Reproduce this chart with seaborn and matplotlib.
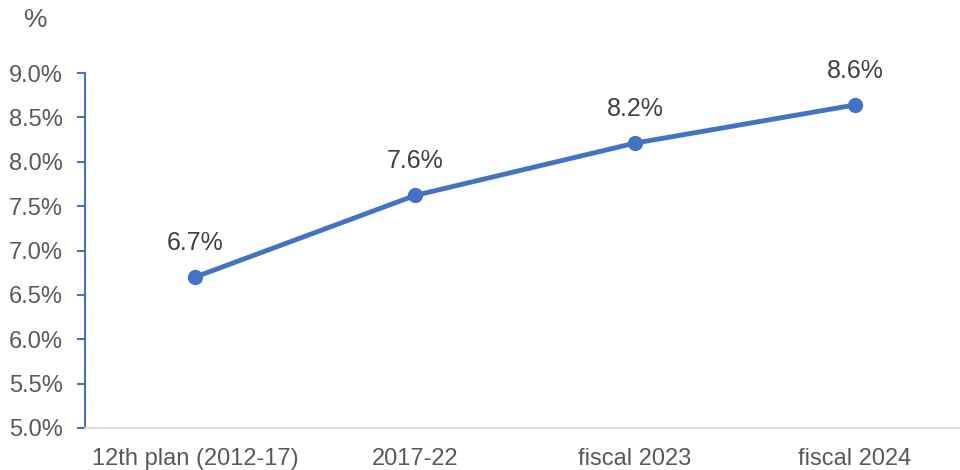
import matplotlib
matplotlib.use("Agg")
import matplotlib.pyplot as plt
import seaborn as sns
import pandas as pd

periods = ["12th plan (2012-17)", "2017-22", "fiscal 2023", "fiscal 2024"]
growth_pct = [6.70, 7.62, 8.21, 8.64]
y_ticks = [5.0, 5.5, 6.0, 6.5, 7.0, 7.5, 8.0, 8.5, 9.0]

sns.set_style("white")
plt.rcParams["font.family"] = ["Liberation Sans", "DejaVu Sans"]

df = pd.DataFrame({"period": periods, "growth": growth_pct, "pos": range(len(periods))})

line_color = "#4472C4"
text_color = "#595959"

fig = plt.figure(figsize=(9.6, 4.7), dpi=100)
ax = fig.add_axes([85 / 960, 1 - 428 / 470, 1 - 85 / 960, (428 - 73) / 470])

sns.lineplot(data=df, x="pos", y="growth", ax=ax, color=line_color, linewidth=3.5,
             marker="o", markersize=11, markeredgecolor=line_color, markeredgewidth=0)

for xi, v in zip(df["pos"], df["growth"]):
    ax.annotate(f"{v:.1f}%", (xi, v), xytext=(0, 16), textcoords="offset points",
                ha="center", va="bottom", fontsize=18, color="#404040")

ax.set_xlim(-0.5, (960 - 85) / 220 - 0.5)
ax.set_ylim(5.0, 9.0)
ax.set_yticks(y_ticks)
ax.set_yticklabels([f"{t:.1f}%" for t in y_ticks])
ax.set_xticks(df["pos"])
ax.set_xticklabels(periods)
ax.set_xlabel("")
ax.set_ylabel("")

for s in ["top", "right"]:
    ax.spines[s].set_visible(False)
ax.spines["left"].set_color(line_color)
ax.spines["left"].set_linewidth(1.5)
ax.spines["bottom"].set_color("#D9D9D9")
ax.spines["bottom"].set_linewidth(1.2)

ax.tick_params(axis="y", which="both", left=True, length=6, width=1.5, color=line_color,
               labelsize=17, labelcolor=text_color, pad=10)
ax.tick_params(axis="x", bottom=False, labelsize=17, labelcolor=text_color, pad=11)

fig.text(36 / 960, 1 - 20 / 470, "%", ha="center", va="center", fontsize=19, color=text_color)

fig.savefig("out.png", dpi=100)
